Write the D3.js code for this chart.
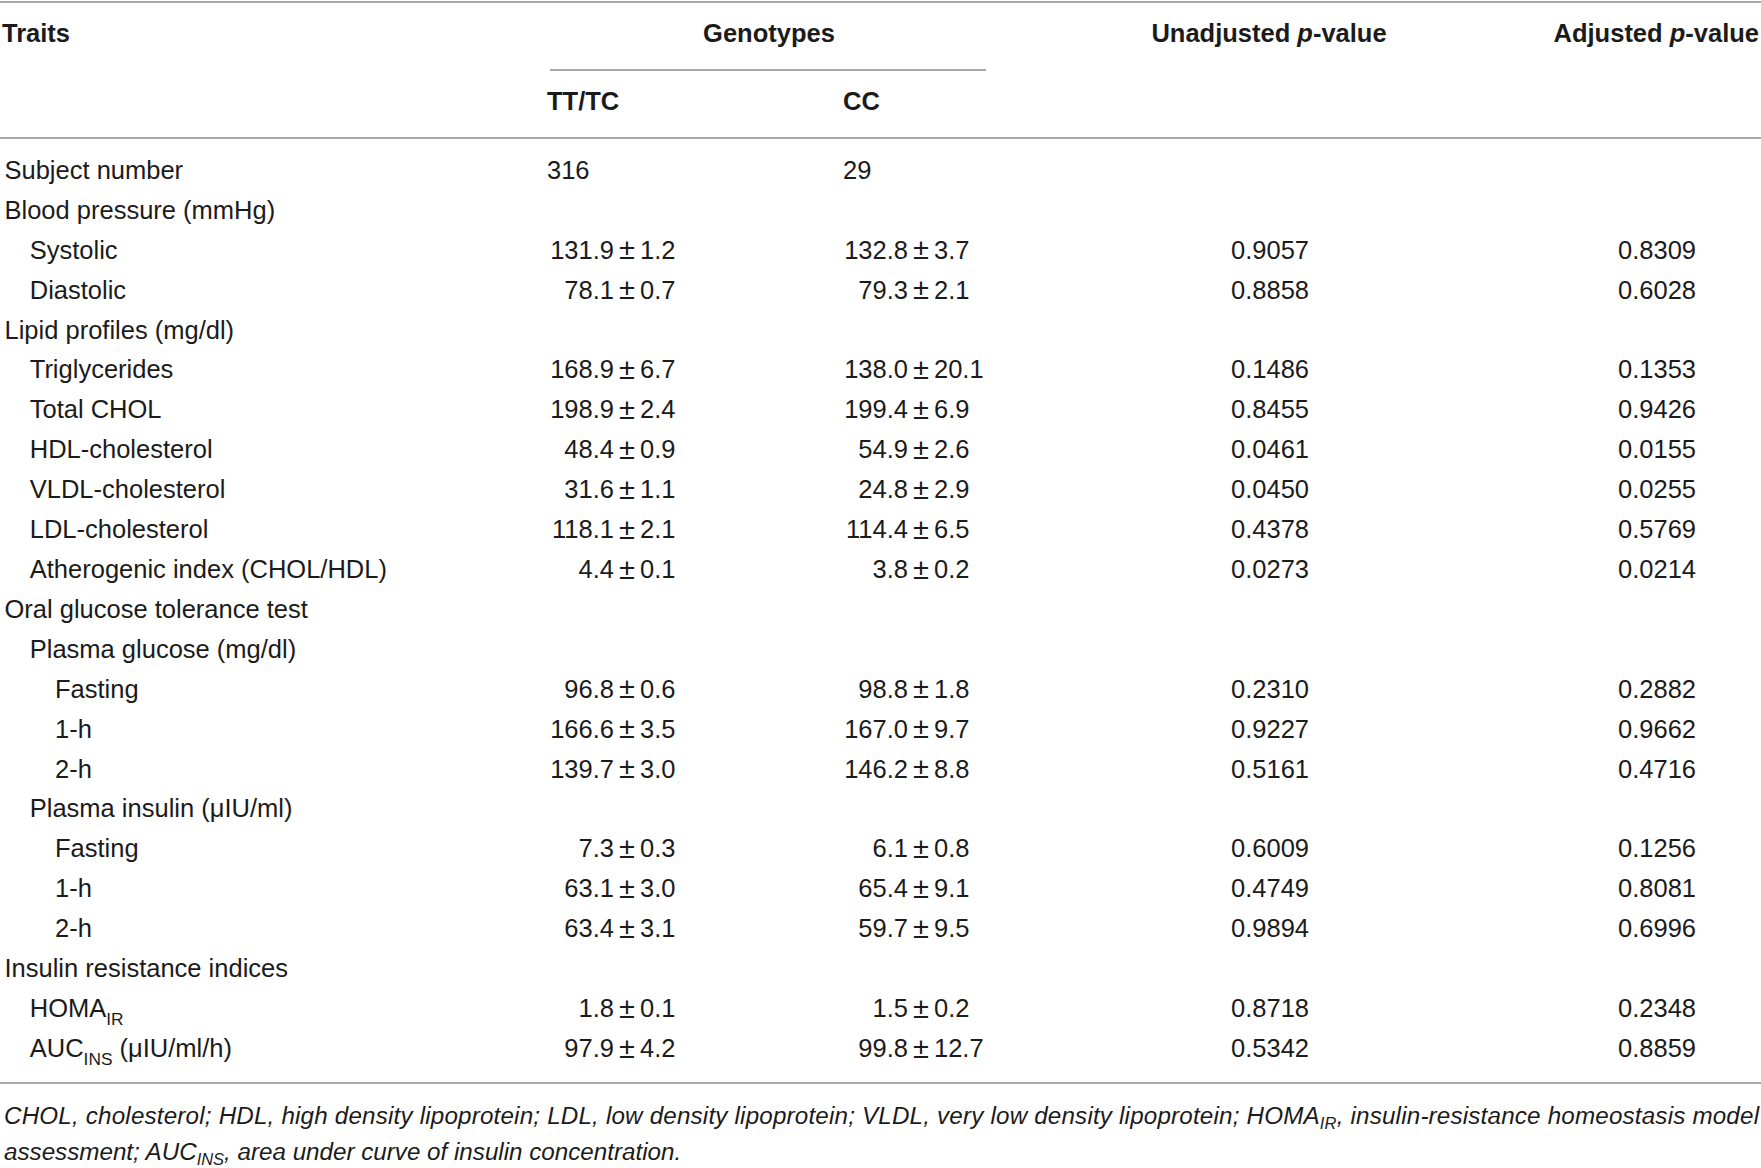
<!doctype html>
<meta charset="utf-8">
<title>Genotype traits table</title>
<script src="https://cdn.jsdelivr.net/npm/d3@7"></script>
<style>
  body { margin: 0; background: #fff; }
  text { font-family: "Liberation Sans", Arial, sans-serif; fill: #1b1b1b; }
</style>
<body>
<script>
// rows of the table, top to bottom (null = no value shown)
var traits = ["Subject number", "Blood pressure (mmHg)", "Systolic", "Diastolic",
  "Lipid profiles (mg/dl)", "Triglycerides", "Total CHOL", "HDL-cholesterol",
  "VLDL-cholesterol", "LDL-cholesterol", "Atherogenic index (CHOL/HDL)",
  "Oral glucose tolerance test", "Plasma glucose (mg/dl)", "Fasting", "1-h", "2-h",
  "Plasma insulin (\u03bcIU/ml)", "Fasting", "1-h", "2-h",
  "Insulin resistance indices", "HOMA_{IR}", "AUC_{INS} (\u03bcIU/ml/h)"];
var level = [0, 0, 1, 1, 0, 1, 1, 1, 1, 1, 1, 0, 1, 2, 2, 2, 1, 2, 2, 2, 0, 1, 1];

var ttMean = [316, null, 131.9, 78.1, null, 168.9, 198.9, 48.4, 31.6, 118.1, 4.4, null, null, 96.8, 166.6, 139.7, null, 7.3, 63.1, 63.4, null, 1.8, 97.9];
var ttSe   = [null, null, 1.2, 0.7, null, 6.7, 2.4, 0.9, 1.1, 2.1, 0.1, null, null, 0.6, 3.5, 3.0, null, 0.3, 3.0, 3.1, null, 0.1, 4.2];
var ccMean = [29, null, 132.8, 79.3, null, 138.0, 199.4, 54.9, 24.8, 114.4, 3.8, null, null, 98.8, 167.0, 146.2, null, 6.1, 65.4, 59.7, null, 1.5, 99.8];
var ccSe   = [null, null, 3.7, 2.1, null, 20.1, 6.9, 2.6, 2.9, 6.5, 0.2, null, null, 1.8, 9.7, 8.8, null, 0.8, 9.1, 9.5, null, 0.2, 12.7];
var pUnadj = [null, null, 0.9057, 0.8858, null, 0.1486, 0.8455, 0.0461, 0.0450, 0.4378, 0.0273, null, null, 0.2310, 0.9227, 0.5161, null, 0.6009, 0.4749, 0.9894, null, 0.8718, 0.5342];
var pAdj   = [null, null, 0.8309, 0.6028, null, 0.1353, 0.9426, 0.0155, 0.0255, 0.5769, 0.0214, null, null, 0.2882, 0.9662, 0.4716, null, 0.1256, 0.8081, 0.6996, null, 0.2348, 0.8859];

var footnote = [
  "CHOL, cholesterol; HDL, high density lipoprotein; LDL, low density lipoprotein; VLDL, very low density lipoprotein; HOMA_{IR}, insulin-resistance homeostasis model",
  "assessment; AUC_{INS}, area under curve of insulin concentration."
];

var width = 1761, height = 1168;
var lineColor = "#a9a9a9";
var fs = 25.5, fsNote = 24.2;

var svg = d3.select("body").append("svg")
  .attr("width", width)
  .attr("height", height);

// row positions and column anchors
var y = d3.scalePoint()
  .domain(d3.range(traits.length))
  .range([170, 1048]);
var indent = d3.scaleLinear().domain([0, 2]).range([4.5, 55]);
var col = { tt: 547, ttPm: 627, cc: 843, ccPm: 921, unadj: 1309, adj: 1696 };

var fmt1 = d3.format(".1f"), fmt4 = d3.format(".4f");

// writes a label, turning _{..} into subscripts
function label(sel, str, size, shift) {
  shift = shift || 0.3;
  var parts = str.split(/_\{(.*?)\}/);
  parts.forEach(function(p, i) {
    if (!p) return;
    var t = sel.append("tspan").text(p);
    if (i % 2 == 1) {
      t.attr("font-size", size * 0.68).attr("dy", size * shift);
    } else if (i > 0) {
      t.attr("dy", -size * shift);
    }
  });
}

// rules
function hline(x1, x2, yy) {
  svg.append("line")
    .attr("x1", x1).attr("x2", x2)
    .attr("y1", yy).attr("y2", yy)
    .attr("stroke", lineColor)
    .attr("stroke-width", 2.2);
}
hline(0, width, 2);
hline(550, 986, 70);
hline(0, width, 138);
hline(0, width, 1083);

// header
var head = svg.append("g")
  .attr("font-weight", "bold")
  .attr("font-size", fs);
head.append("text").attr("x", 2).attr("y", 33).attr("dy", "0.35em").text("Traits");
head.append("text").attr("x", 769).attr("y", 33).attr("dy", "0.35em")
  .attr("text-anchor", "middle").text("Genotypes");
head.append("text").attr("x", col.tt).attr("y", 101).attr("dy", "0.35em").text("TT/TC");
head.append("text").attr("x", col.cc).attr("y", 101).attr("dy", "0.35em").text("CC");
[["Unadjusted ", 1269, "middle"], ["Adjusted ", 1759, "end"]].forEach(function(h) {
  var t = head.append("text").attr("x", h[1]).attr("y", 33).attr("dy", "0.35em")
    .attr("text-anchor", h[2]);
  t.append("tspan").text(h[0]);
  t.append("tspan").attr("font-style", "italic").text("p");
  t.append("tspan").text("-value");
});

// body rows
var rows = svg.append("g").attr("font-size", fs)
  .selectAll("g")
  .data(traits)
  .join("g")
  .attr("transform", function(d, i) { return "translate(0," + y(i) + ")"; });

rows.append("text")
  .attr("x", function(d, i) { return indent(level[i]); })
  .attr("dy", "0.35em")
  .each(function(d) { label(d3.select(this), d, fs); });

// mean ± SE, lined up on the ± sign
function meanSe(means, ses, pmX, plainX) {
  rows.each(function(d, i) {
    var m = means[i], s = ses[i], g = d3.select(this);
    if (m == null) return;
    if (s == null) {
      g.append("text").attr("x", plainX).attr("dy", "0.35em").text(m);
      return;
    }
    g.append("text").attr("x", pmX - 13).attr("dy", "0.35em")
      .attr("text-anchor", "end").text(fmt1(m));
    g.append("text").attr("x", pmX).attr("dy", "0.33em")
      .attr("font-size", 29)
      .attr("text-anchor", "middle").text("\u00b1");
    g.append("text").attr("x", pmX + 13).attr("dy", "0.35em").text(fmt1(s));
  });
}
meanSe(ttMean, ttSe, col.ttPm, col.tt);
meanSe(ccMean, ccSe, col.ccPm, col.cc);

// p-values
rows.each(function(d, i) {
  var g = d3.select(this);
  if (pUnadj[i] != null)
    g.append("text").attr("x", col.unadj).attr("dy", "0.35em")
      .attr("text-anchor", "end").text(fmt4(pUnadj[i]));
  if (pAdj[i] != null)
    g.append("text").attr("x", col.adj).attr("dy", "0.35em")
      .attr("text-anchor", "end").text(fmt4(pAdj[i]));
});

// footnote
svg.append("g")
  .attr("font-size", fsNote)
  .attr("font-style", "italic")
  .selectAll("text")
  .data(footnote)
  .join("text")
  .attr("x", 4)
  .attr("y", function(d, i) { return 1116 + i * 36; })
  .attr("dy", "0.35em")
  .each(function(d) { label(d3.select(this), d, fsNote, 0.2); })
  .filter(function(d, i) { return i == 0; })
  .attr("textLength", 1755)
  .attr("lengthAdjust", "spacing");
</script>
</body>
